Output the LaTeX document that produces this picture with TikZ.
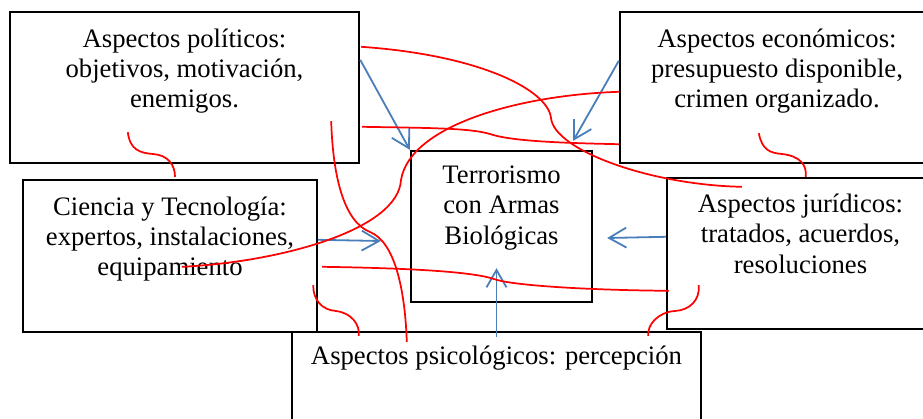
\documentclass[tikz,border=0pt]{standalone}
\usepackage{fontspec}
\setmainfont{Liberation Serif}
\usepackage{xcolor}
\usetikzlibrary{positioning,calc,arrows.meta}
\definecolor{azul}{RGB}{74,126,187}

\begin{document}
\begin{tikzpicture}[x=0.75pt, y=-0.75pt,
        caja/.style={draw, fill=white, line width=1.8pt, inner sep=0pt, minimum height=113.25pt},
        texto/.style={align=center, inner sep=0pt, font=\fontsize{20}{22.7}\selectfont},
        flecha/.style={draw=azul, line width=1.35pt, -{Straight Barb[length=13pt,width=15pt]}},
        rojo/.style={draw=red, line width=1.3pt}]
    \useasboundingbox (0,0) rectangle (923,418);

    \node[caja, minimum width=261.75pt] (pol) at (184.5,87.5) {};
    \node[caja, minimum width=235.5pt] (eco) at (777,87.5) {};
    \node[caja, minimum width=220.5pt, minimum height=114pt] (cyt) at (170,256) {};
    \node[caja, minimum width=135.75pt] (ter) at (501.5,226.5) {};
    \node[caja, minimum width=200.25pt] (jur) at (800.5,253.5) {};
    \node[caja, minimum width=306.75pt] (psi) at (496.5,407.5) {};

    \node[texto, below=13.2pt of pol.north] (polt) {Aspectos políticos:\\objetivos, motivación,\\enemigos.};
    \node[texto, below=13.2pt of eco.north] (ecot) {Aspectos económicos:\\presupuesto disponible,\\crimen organizado.};
    \node[texto, below=13.1pt of cyt.north] (cytt) {Ciencia y Tecnología:\\expertos, instalaciones,\\equipamiento};
    \node[texto, below=11.9pt of ter.north] (tert) {Terrorismo\\con Armas\\Biológicas};
    \node[texto, below=12.75pt of jur.north] (jurt) {Aspectos jurídicos:\\tratados, acuerdos,\\resoluciones};
    \node[texto, below=11pt of psi.north] (psit) {Aspectos psicológicos: percepción};

    \draw[flecha] ($(pol.north east)+(0,49)$) -- (ter.north west);
    \draw[flecha] ($(eco.north west)+(0,50)$) -- ($(ter.north east)+(-20,-9)$);
    \draw[flecha] ($(cyt.north east)+(0,61)$) -- ($(ter.west)+(-29,14.5)$);
    \draw[flecha] ($(jur.north west)+(0,60)$) -- ($(ter.east)+(14,11.5)$);
    \draw[flecha] ($(psi.north)+(0,6)$) -- ($(ter.south)+(-5,-35)$);

    \draw[rojo] ($(pol.north east)+(1,36)$) .. controls (480,55) and (548,90) .. (551,118)
        .. controls (554,150) and (650,185) .. ($(jur.north west)+(76,10)$);
    \draw[rojo] ($(pol.north east)+(2,116)$) .. controls (430,128) and (470,128) .. (490,134)
        .. controls (510,141) and (560,143) .. ($(eco.south west)+(0,-20)$);
    \draw[rojo] ($(eco.north west)+(0,81)$) .. controls (520,95) and (410,125) .. (401,180)
        .. controls (398,230) and (280,262) .. ($(cyt.north west)+(160,88)$);
    \draw[rojo] ($(pol.south east)+(-29,-43)$) .. controls (333,180) and (345,222) .. (370,232)
        .. controls (395,242) and (405,290) .. ($(psi.north west)+(116,11)$);
    \draw[rojo] ($(pol.south west)+(119,-32)$) .. controls (130,150) and (140,153) .. (153,154)
        .. controls (168,155) and (175,165) .. ($(cyt.north)+(5,-2)$);
    \draw[rojo] ($(eco.south west)+(140,-31)$) .. controls (762,150) and (770,153) .. (782,154)
        .. controls (800,156) and (807,165) .. ($(jur.north west)+(140,0)$);
    \draw[rojo] ($(cyt.south east)+(-5,-48)$) .. controls (313,300) and (322,310) .. (336,311)
        .. controls (352,313) and (360,325) .. ($(psi.north west)+(68,5)$);
    \draw[rojo] ($(cyt.north east)+(4,88)$) .. controls (400,268) and (470,271) .. (494,279)
        .. controls (510,285) and (580,290) .. ($(jur.north west)+(3,114)$);
    \draw[rojo] ($(jur.south west)+(33,-45)$) .. controls (700,300) and (690,310) .. (675,311)
        .. controls (658,312) and (647,325) .. ($(psi.north east)+(-54,5)$);
\end{tikzpicture}
\end{document}
